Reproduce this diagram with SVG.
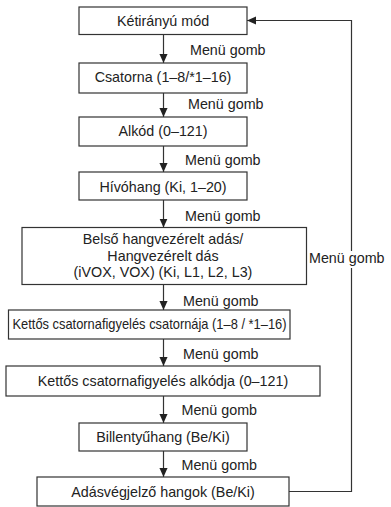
<svg xmlns="http://www.w3.org/2000/svg" width="391" height="507" viewBox="0 0 391 507">
<defs>
<marker id="ah" viewBox="0 0 10 10" refX="10" refY="5" markerWidth="9" markerHeight="9" markerUnits="userSpaceOnUse" orient="auto">
<path d="M0,0.5 L10,5 L0,9.5 Z" fill="#222"/>
</marker>
<style>
.box{fill:#fff;stroke:#333;stroke-width:1.2}
.t{font-family:"Liberation Sans",Arial,sans-serif;font-size:14.3px;fill:#222;text-anchor:middle}
.l{font-family:"Liberation Sans",Arial,sans-serif;font-size:14.3px;fill:#222}
.c{fill:none;stroke:#333;stroke-width:1.2}
</style>
</defs>
<rect width="391" height="507" fill="#fff"/>
<g id="connectors">
<line class="c" x1="163.5" y1="34.5" x2="163.5" y2="63" marker-end="url(#ah)"/>
<line class="c" x1="163.5" y1="93" x2="163.5" y2="117" marker-end="url(#ah)"/>
<line class="c" x1="163.5" y1="146" x2="163.5" y2="172" marker-end="url(#ah)"/>
<line class="c" x1="163.5" y1="200" x2="163.5" y2="227.5" marker-end="url(#ah)"/>
<line class="c" x1="163.5" y1="284.5" x2="163.5" y2="310" marker-end="url(#ah)"/>
<line class="c" x1="163.5" y1="339" x2="163.5" y2="366" marker-end="url(#ah)"/>
<line class="c" x1="163.5" y1="396" x2="163.5" y2="423" marker-end="url(#ah)"/>
<line class="c" x1="163.5" y1="451" x2="163.5" y2="477" marker-end="url(#ah)"/>
<polyline class="c" points="289,491.5 351.5,491.5 351.5,268"/>
<polyline class="c" points="351.5,251 351.5,20.5 247,20.5" marker-end="url(#ah)"/>
<text class="l" x="190" y="54.5">Menü gomb</text>
<text class="l" x="188" y="108.5">Menü gomb</text>
<text class="l" x="185" y="165">Menü gomb</text>
<text class="l" x="185" y="220.5">Menü gomb</text>
<text class="l" x="183" y="305.5">Menü gomb</text>
<text class="l" x="183" y="359">Menü gomb</text>
<text class="l" x="181.5" y="415">Menü gomb</text>
<text class="l" x="181.5" y="470">Menü gomb</text>
<text class="l" x="309" y="263">Menü gomb</text>
</g>
<g id="n1"><rect class="box" x="79" y="7" width="168" height="27.5"/><text class="t" x="163" y="26">Kétirányú mód</text></g>
<g id="n2"><rect class="box" x="79" y="63" width="168" height="30"/><text class="t" x="163" y="82">Csatorna (1–8/*1–16)</text></g>
<g id="n3"><rect class="box" x="79" y="117" width="168" height="29"/><text class="t" x="163" y="136">Alkód (0–121)</text></g>
<g id="n4"><rect class="box" x="79" y="172" width="168" height="28"/><text class="t" x="163" y="191.5">Hívóhang (Ki, 1–20)</text></g>
<g id="n5"><rect class="box" x="22" y="227.5" width="284.5" height="57"/>
<text class="t" x="163" y="244">Belső hangvezérelt adás/</text>
<text class="t" x="163" y="260.5">Hangvezérelt dás</text>
<text class="t" x="163" y="277">(iVOX, VOX) (Ki, L1, L2, L3)</text></g>
<g id="n6"><rect class="box" x="8.5" y="310" width="281.5" height="29"/><text class="t" x="149.5" y="329" textLength="274" lengthAdjust="spacingAndGlyphs">Kettős csatornafigyelés csatornája (1–8 / *1–16)</text></g>
<g id="n7"><rect class="box" x="6" y="366" width="314" height="30"/><text class="t" x="163" y="386">Kettős csatornafigyelés alkódja (0–121)</text></g>
<g id="n8"><rect class="box" x="79" y="423" width="168" height="28"/><text class="t" x="163" y="442">Billentyűhang (Be/Ki)</text></g>
<g id="n9"><rect class="box" x="37" y="477" width="252" height="29"/><text class="t" x="163" y="497">Adásvégjelző hangok (Be/Ki)</text></g>
</svg>
